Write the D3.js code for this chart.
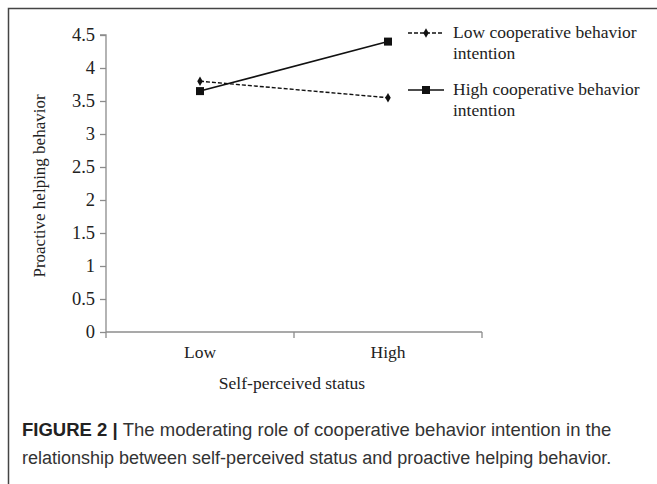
<!DOCTYPE html>
<html>
<head>
<meta charset="utf-8">
<script src="https://cdn.jsdelivr.net/npm/d3@7"></script>
<style>
  body { margin: 0; background: #fff; }
</style>
</head>
<body>
<div id="svg"></div>
<script>
// data
var categories = ["Low", "High"];
var lowCoop = [3.8, 3.55];
var highCoop = [3.65, 4.4];
var yTicks = [0, 0.5, 1, 1.5, 2, 2.5, 3, 3.5, 4, 4.5];
var seriesNames = ["Low cooperative behavior", "High cooperative behavior"];

var svgWidth = 657, svgHeight = 484;
var serif = "'Liberation Serif', 'Times New Roman', serif";
var sans = "'Liberation Sans', Arial, sans-serif";
var axisColour = "#8c8c8c";
var fontSize = 17.5;

var svg = d3.select("div#svg").append("svg")
    .attr("width", svgWidth).attr("height", svgHeight);

// frame
svg.append("path")
    .attr("d", "M8.5," + svgHeight + "V8.5H" + svgWidth)
    .attr("fill", "none").attr("stroke", "#444").attr("stroke-width", 1.5);

var x = d3.scaleBand().domain(categories).range([106, 482]);
var y = d3.scaleLinear().domain([0, 4.5]).range([332, 35]);

// y-axis
var yAxis = svg.append("g").attr("transform", "translate(106,0)")
    .call(d3.axisLeft(y).tickValues(yTicks).tickSize(6).tickPadding(5)
        .tickFormat(function(d) { return d; }));
yAxis.selectAll("path,line").attr("stroke", axisColour).attr("stroke-width", 1.3);
yAxis.select(".domain").attr("d", "M-6," + y(4.5) + "H0V" + y(0));
yAxis.selectAll("text").attr("font-family", serif).attr("font-size", 18.5).attr("fill", "#222");

// x-axis (ticks sit on band edges)
var xAxis = svg.append("g").attr("transform", "translate(0,332)");
xAxis.append("line").attr("x1", 106).attr("x2", 482).attr("stroke", axisColour).attr("stroke-width", 1.3);
var edges = [x.range()[0]].concat(categories.map(function(c) { return x(c) + x.bandwidth(); }));
xAxis.selectAll("line.tick").data(edges).enter().append("line").attr("class", "tick")
    .attr("x1", function(d) { return d; }).attr("x2", function(d) { return d; })
    .attr("y1", 0).attr("y2", 6)
    .attr("stroke", axisColour).attr("stroke-width", 1.3);
xAxis.selectAll("text").data(categories).enter().append("text")
    .attr("x", function(d) { return x(d) + x.bandwidth() / 2; })
    .attr("y", 26)
    .attr("text-anchor", "middle")
    .attr("font-family", serif).attr("font-size", fontSize).attr("fill", "#222")
    .text(function(d) { return d; });

// axis titles
svg.append("text")
    .attr("transform", "translate(45,186) rotate(-90)")
    .attr("text-anchor", "middle")
    .attr("font-family", serif).attr("font-size", 17).attr("fill", "#222")
    .text("Proactive helping behavior");
svg.append("text")
    .attr("x", 292).attr("y", 389)
    .attr("text-anchor", "middle")
    .attr("font-family", serif).attr("font-size", fontSize).attr("fill", "#222")
    .text("Self-perceived status");

// lines
var line = d3.line()
    .x(function(d, i) { return x(categories[i]) + x.bandwidth() / 2; })
    .y(function(d) { return y(d); });

svg.append("path").datum(lowCoop).attr("d", line)
    .attr("fill", "none").attr("stroke", "#111").attr("stroke-width", 1.4)
    .attr("stroke-dasharray", "4,2");
svg.append("path").datum(highCoop).attr("d", line)
    .attr("fill", "none").attr("stroke", "#111").attr("stroke-width", 1.6);

var diamond = d3.symbol().type(d3.symbolDiamond).size(26);
svg.selectAll("path.lowpt").data(lowCoop).enter().append("path").attr("class", "lowpt")
    .attr("d", diamond)
    .attr("transform", function(d, i) { return "translate(" + (x(categories[i]) + x.bandwidth() / 2) + "," + y(d) + ")"; })
    .attr("fill", "#111");
svg.selectAll("rect.highpt").data(highCoop).enter().append("rect").attr("class", "highpt")
    .attr("x", function(d, i) { return x(categories[i]) + x.bandwidth() / 2 - 4; })
    .attr("y", function(d) { return y(d) - 4; })
    .attr("width", 8).attr("height", 8)
    .attr("fill", "#111");

// legend
var legend = svg.append("g").attr("transform", "translate(408,33)");
seriesNames.forEach(function(name, i) {
    var g = legend.append("g").attr("transform", "translate(0," + (i * 57) + ")");
    g.append("line").attr("x1", 0).attr("x2", 36)
        .attr("stroke", "#111").attr("stroke-width", i === 0 ? 1.3 : 1.6)
        .attr("stroke-dasharray", i === 0 ? "4,2" : null);
    if (i === 0) {
        g.append("path").attr("d", diamond).attr("transform", "translate(18,0)").attr("fill", "#111");
    } else {
        g.append("rect").attr("x", 14).attr("y", -4).attr("width", 8).attr("height", 8).attr("fill", "#111");
    }
    var t = g.append("text").attr("x", 45).attr("y", 5)
        .attr("font-family", serif).attr("font-size", fontSize).attr("fill", "#222");
    t.append("tspan").attr("x", 45).text(name);
    t.append("tspan").attr("x", 45).attr("dy", 21).text("intention");
});

// caption
var cap = svg.append("text").attr("x", 22).attr("y", 436)
    .attr("font-family", sans).attr("font-size", 18.5).attr("fill", "#333");
cap.append("tspan").attr("font-weight", "bold").attr("fill", "#222").text("FIGURE 2 | ");
cap.append("tspan").text("The moderating role of cooperative behavior intention in the");
svg.append("text").attr("x", 22).attr("y", 464)
    .attr("font-family", sans).attr("font-size", 18).attr("fill", "#333")
    .text("relationship between self-perceived status and proactive helping behavior.");
</script>
</body>
</html>
